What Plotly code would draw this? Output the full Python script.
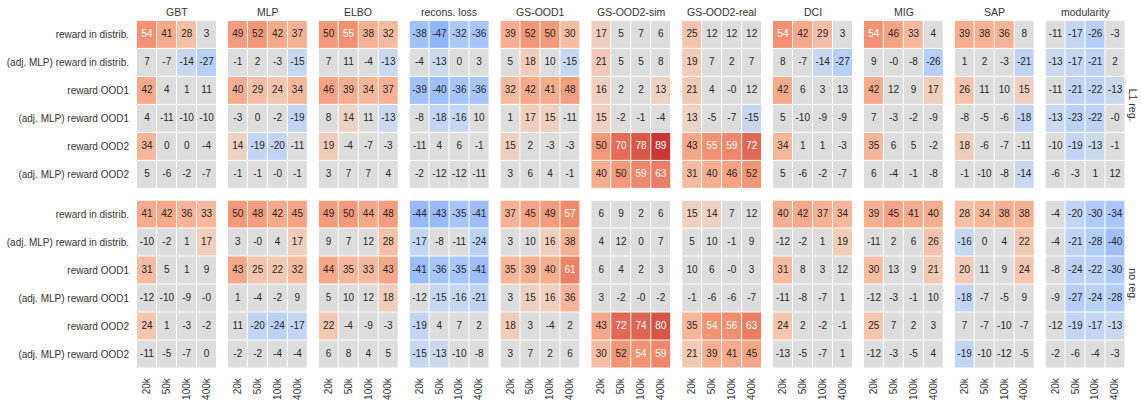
import numpy as np
import plotly.graph_objects as go

# ---- data -------------------------------------------------------------
sizes = ["20k", "50k", "100k", "400k"]
rows = [
    "reward in distrib.",
    "(adj. MLP) reward in distrib.",
    "reward OOD1",
    "(adj. MLP) reward OOD1",
    "reward OOD2",
    "(adj. MLP) reward OOD2",
]
metrics = ["GBT", "MLP", "ELBO", "recons. loss", "GS-OOD1", "GS-OOD2-sim",
           "GS-OOD2-real", "DCI", "MIG", "SAP", "modularity"]
regimes = ["L1 reg.", "no reg."]

l1_gbt = [[54, 41, 28, 3], [7, -7, -14, -27], [42, 4, 1, 11], [4, -11, -10, -10], [34, 0, 0, -4], [5, -6, -2, -7]]
l1_mlp = [[49, 52, 42, 37], [-1, 2, -3, -15], [40, 29, 24, 34], [-3, 0, -2, -19], [14, -19, -20, -11], [-1, -1, -0.0, -1]]
l1_elbo = [[50, 55, 38, 32], [7, 11, -4, -13], [46, 39, 34, 37], [8, 14, 11, -13], [19, -4, -7, -3], [3, 7, 7, 4]]
l1_recons = [[-38, -47, -32, -36], [-4, -13, 0, 3], [-39, -40, -36, -36], [-8, -18, -16, 10], [-11, 4, 6, -1], [-2, -12, -12, -11]]
l1_ood1 = [[39, 52, 50, 30], [5, 18, 10, -15], [32, 42, 41, 48], [1, 17, 15, -11], [15, 2, -3, -3], [3, 6, 4, -1]]
l1_ood2_sim = [[17, 5, 7, 6], [21, 5, 5, 8], [16, 2, 2, 13], [15, -2, -1, -4], [50, 70, 78, 89], [40, 50, 59, 63]]
l1_ood2_real = [[25, 12, 12, 12], [19, 7, 2, 7], [21, 4, -0.0, 12], [13, -5, -7, -15], [43, 55, 59, 72], [31, 40, 46, 52]]
l1_dci = [[54, 42, 29, 3], [8, -7, -14, -27], [42, 6, 3, 13], [5, -10, -9, -9], [34, 1, 1, -3], [5, -6, -2, -7]]
l1_mig = [[54, 46, 33, 4], [9, -0.0, -8, -26], [42, 12, 9, 17], [7, -3, -2, -9], [35, 6, 5, -2], [6, -4, -1, -8]]
l1_sap = [[39, 38, 36, 8], [1, 2, -3, -21], [26, 11, 10, 15], [-8, -5, -6, -18], [18, -6, -7, -11], [-1, -10, -8, -14]]
l1_modularity = [[-11, -17, -26, -3], [-13, -17, -21, 2], [-11, -21, -22, -13], [-13, -23, -22, -0.0], [-10, -19, -13, -1], [-6, -3, 1, 12]]

noreg_gbt = [[41, 42, 36, 33], [-10, -2, 1, 17], [31, 5, 1, 9], [-12, -10, -9, -0.0], [24, 1, -3, -2], [-11, -5, -7, 0]]
noreg_mlp = [[50, 48, 42, 45], [3, -0.0, 4, 17], [43, 25, 22, 32], [1, -4, -2, 9], [11, -20, -24, -17], [-2, -2, -4, -4]]
noreg_elbo = [[49, 50, 44, 48], [9, 7, 12, 28], [44, 35, 33, 43], [5, 10, 12, 18], [22, -4, -9, -3], [6, 8, 4, 5]]
noreg_recons = [[-44, -43, -35, -41], [-17, -8, -11, -24], [-41, -36, -35, -41], [-12, -15, -16, -21], [-19, 4, 7, 2], [-15, -13, -10, -8]]
noreg_ood1 = [[37, 45, 49, 57], [3, 10, 16, 38], [35, 39, 40, 61], [3, 15, 16, 36], [18, 3, -4, 2], [3, 7, 2, 6]]
noreg_ood2_sim = [[6, 9, 2, 6], [4, 12, 0, 7], [6, 4, 2, 3], [3, -2, -0.0, -2], [43, 72, 74, 80], [30, 52, 54, 59]]
noreg_ood2_real = [[15, 14, 7, 12], [5, 10, -1, 9], [10, 6, -0.0, 3], [-1, -6, -6, -7], [35, 54, 56, 63], [21, 39, 41, 45]]
noreg_dci = [[40, 42, 37, 34], [-12, -2, 1, 19], [31, 8, 3, 12], [-11, -8, -7, 1], [24, 2, -2, -1], [-13, -5, -7, 1]]
noreg_mig = [[39, 45, 41, 40], [-11, 2, 6, 26], [30, 13, 9, 21], [-12, -3, -1, 10], [25, 7, 2, 3], [-12, -3, -5, 4]]
noreg_sap = [[28, 34, 38, 38], [-16, 0, 4, 22], [20, 11, 9, 24], [-18, -7, -5, 9], [7, -7, -10, -7], [-19, -10, -12, -5]]
noreg_modularity = [[-4, -20, -30, -34], [-4, -21, -28, -40], [-8, -24, -22, -30], [-9, -27, -24, -28], [-12, -19, -17, -13], [-2, -6, -4, -3]]

panels = {
    "L1 reg.": [l1_gbt, l1_mlp, l1_elbo, l1_recons, l1_ood1, l1_ood2_sim,
                l1_ood2_real, l1_dci, l1_mig, l1_sap, l1_modularity],
    "no reg.": [noreg_gbt, noreg_mlp, noreg_elbo, noreg_recons, noreg_ood1, noreg_ood2_sim,
                noreg_ood2_real, noreg_dci, noreg_mig, noreg_sap, noreg_modularity],
}

# cells coloured only when the effect is significant
sig_threshold = 13
not_significant = [("L1 reg.", "DCI", 2, 3), ("no reg.", "DCI", 5, 0), ("no reg.", "MIG", 2, 1)]

# ---- colours (coolwarm, centred at 0) ----------------------------------
coolwarm_table = [
    (59, 76, 192), (68, 90, 204), (77, 104, 215), (87, 117, 225), (98, 130, 234),
    (108, 142, 241), (119, 154, 247), (130, 165, 251), (141, 176, 254), (152, 185, 255),
    (163, 194, 255), (174, 201, 253), (184, 208, 249), (194, 213, 244), (204, 217, 238),
    (213, 219, 230), (221, 221, 221), (229, 216, 209), (236, 211, 197), (241, 204, 185),
    (245, 196, 173), (247, 187, 160), (247, 177, 148), (247, 166, 135), (244, 154, 123),
    (241, 141, 111), (236, 127, 99), (229, 112, 88), (222, 96, 77), (213, 80, 66),
    (203, 62, 56), (192, 40, 47), (180, 4, 38),
]
n_stops = len(coolwarm_table)
stops = np.linspace(0, 1, n_stops)
colorscale = [[float(s), "rgb(%d,%d,%d)" % c] for s, c in zip(stops, coolwarm_table)]
ZMIN, ZMAX = -100, 100
table = np.array(coolwarm_table, dtype=float)


def cell_rgb(v):
    t = (v - ZMIN) / (ZMAX - ZMIN)
    return [np.interp(t, stops, table[:, k]) for k in range(3)]


def luminance(rgb):
    lin = []
    for c in rgb:
        c = c / 255.0
        lin.append(c / 12.92 if c <= 0.04045 else ((c + 0.055) / 1.055) ** 2.4)
    return 0.2126 * lin[0] + 0.7152 * lin[1] + 0.0722 * lin[2]


# ---- layout geometry (pixels) -----------------------------------------
W, H = 1143, 400
panel_left0, panel_pitch, panel_w = 137, 90.85, 79.5
row_top = [(21, 190), (202, 371)]
FONT = "Liberation Sans, Arial, sans-serif"
TXT = "#333333"

fig = go.Figure()
layout = dict(
    width=W, height=H,
    margin=dict(l=0, r=0, t=0, b=0),
    paper_bgcolor="white", plot_bgcolor="white",
    showlegend=False,
    font=dict(family=FONT, size=10, color=TXT),
    annotations=[],
)

idx = 0
for r, regime in enumerate(regimes):
    y0px, y1px = row_top[r]
    ydom = [1 - y1px / H, 1 - y0px / H]
    for c, metric in enumerate(metrics):
        idx += 1
        vals = np.array(panels[regime][c], dtype=float)
        colour_vals = np.where(np.abs(vals) >= sig_threshold, vals, 0.0)
        for (rg, mt, i, j) in not_significant:
            if rg == regime and mt == metric:
                colour_vals[i, j] = 0.0

        xa = "x" if idx == 1 else "x%d" % idx
        ya = "y" if idx == 1 else "y%d" % idx

        fig.add_trace(go.Heatmap(
            z=colour_vals, x=sizes, y=rows,
            zmin=ZMIN, zmax=ZMAX, colorscale=colorscale, showscale=False,
            xgap=1, ygap=1, hoverinfo="skip", xaxis=xa, yaxis=ya,
        ))

        tx, ty, tt, tc = [], [], [], []
        for i, rl in enumerate(rows):
            for j, sz in enumerate(sizes):
                v = vals[i, j]
                tx.append(sz)
                ty.append(rl)
                tt.append("%.0f" % v)
                lum = luminance(cell_rgb(colour_vals[i, j]))
                tc.append("#262626" if lum > 0.408 else "white")
        fig.add_trace(go.Scatter(
            x=tx, y=ty, text=tt, mode="text",
            textfont=dict(family=FONT, size=10, color=tc),
            hoverinfo="skip", xaxis=xa, yaxis=ya,
        ))

        left = panel_left0 + c * panel_pitch
        xdom = [left / W, (left + panel_w) / W]
        key_x = "xaxis" if idx == 1 else "xaxis%d" % idx
        key_y = "yaxis" if idx == 1 else "yaxis%d" % idx
        layout[key_x] = dict(
            domain=xdom, anchor=ya, type="category", range=[-0.5, 3.5],
            showgrid=False, zeroline=False, showline=False, ticks="",
            showticklabels=(r == 1), tickangle=-90, ticklabelstandoff=7,
            tickfont=dict(family=FONT, size=10, color=TXT), fixedrange=True,
        )
        layout[key_y] = dict(
            domain=ydom, anchor=xa, type="category", range=[5.5, -0.5],
            showgrid=False, zeroline=False, showline=False, ticks="",
            showticklabels=(c == 0), ticklabelstandoff=7,
            tickfont=dict(family=FONT, size=10, color=TXT), fixedrange=True,
        )

        if r == 0:
            layout["annotations"].append(dict(
                text=metric, xref="paper", yref="paper",
                x=(left + panel_w / 2) / W, y=1 - 12 / H,
                xanchor="center", yanchor="middle", showarrow=False,
                font=dict(family=FONT, size=10.5, color=TXT),
            ))

    layout["annotations"].append(dict(
        text=regime, xref="paper", yref="paper",
        x=1133 / W, y=1 - (y0px + y1px) / 2 / H,
        xanchor="center", yanchor="middle", showarrow=False, textangle=90,
        font=dict(family=FONT, size=10.5, color=TXT),
    ))

fig.update_layout(**layout)
fig.write_html("out.html")
